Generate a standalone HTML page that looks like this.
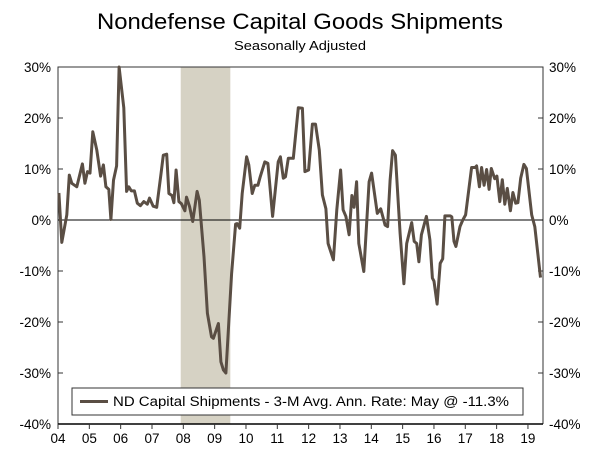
<!DOCTYPE html>
<html><head><meta charset="utf-8"><style>
body{margin:0;background:#fff;width:600px;height:454px;overflow:hidden;font-family:"Liberation Sans",sans-serif}
svg text{font-family:"Liberation Sans","DejaVu Sans",sans-serif;fill:#000}
</style></head><body>
<svg id="chart" width="600" height="454">
<text x="300" y="29" text-anchor="middle" font-size="22" textLength="406" lengthAdjust="spacingAndGlyphs">Nondefense Capital Goods Shipments</text>
<text x="300" y="50" text-anchor="middle" font-size="13" textLength="132" lengthAdjust="spacingAndGlyphs">Seasonally Adjusted</text>
<g id="plot"></g>
</svg>
<script>
const dates=[2004.03,2004.12,2004.28,2004.36,2004.44,2004.6,2004.78,2004.86,2004.94,2005.02,2005.11,2005.24,2005.36,2005.45,2005.53,2005.62,2005.69,2005.77,2005.87,2005.95,2006.1,2006.19,2006.26,2006.34,2006.44,2006.53,2006.63,2006.74,2006.85,2006.92,2007.04,2007.15,2007.29,2007.36,2007.47,2007.54,2007.64,2007.7,2007.77,2007.86,2007.94,2008.05,2008.1,2008.2,2008.3,2008.37,2008.44,2008.51,2008.66,2008.77,2008.9,2008.96,2009.12,2009.2,2009.28,2009.36,2009.54,2009.67,2009.72,2009.8,2009.88,2010.02,2010.09,2010.2,2010.28,2010.38,2010.45,2010.6,2010.7,2010.85,2011.03,2011.1,2011.19,2011.26,2011.35,2011.51,2011.67,2011.8,2011.88,2012.0,2012.12,2012.22,2012.34,2012.44,2012.55,2012.62,2012.79,2012.9,2013.02,2013.1,2013.19,2013.29,2013.38,2013.45,2013.53,2013.6,2013.76,2013.93,2014.01,2014.19,2014.3,2014.44,2014.52,2014.6,2014.68,2014.77,2014.92,2015.04,2015.13,2015.29,2015.37,2015.45,2015.52,2015.6,2015.76,2015.87,2015.95,2016.0,2016.1,2016.2,2016.28,2016.35,2016.52,2016.57,2016.64,2016.7,2016.83,2016.92,2017.01,2017.2,2017.31,2017.36,2017.45,2017.52,2017.6,2017.68,2017.76,2017.83,2017.94,2018.01,2018.1,2018.18,2018.26,2018.34,2018.44,2018.52,2018.61,2018.68,2018.77,2018.87,2018.95,2019.12,2019.22,2019.4];
const values=[5.3,-4.4,1.0,8.8,7.2,6.5,11,7.2,9.5,9.2,17.3,13.7,8.6,10.8,6.5,6.0,0.1,7.8,10.6,30,22,5.6,6.5,5.7,5.7,3.3,2.8,3.6,3.1,4.3,2.7,2.5,9.2,12.7,12.9,5.2,4.8,3.4,9.8,3.6,3.2,1.8,4.5,2.6,-0.3,2.6,5.6,3.9,-7.2,-18.3,-22.9,-23.2,-20.3,-27.8,-29.4,-30,-10.5,-0.8,-0.7,-1.6,5.2,12.4,10.8,5.2,6.8,6.8,8.4,11.4,11.1,0.7,11.4,12.4,8.2,8.5,12.1,12.1,22,21.9,9.5,9.8,18.8,18.8,13.7,4.9,2.2,-4.6,-7.8,2,9.8,2,0.7,-2.9,4.8,2.5,7.5,-4.6,-10.1,7.5,9.2,1.3,2.2,-1,-1.3,7.8,13.6,12.7,-2.6,-12.5,-4.6,-0.5,-4.2,-4.6,-8.2,-2.9,0.7,-3.9,-11.4,-12,-16.5,-8.5,-7.6,0.8,0.8,0.6,-4.2,-5.2,-1.3,0,1,10.3,10.3,10.6,6.5,10.3,6.8,9.9,6,10.1,8.1,8.6,3.6,7.9,3.1,6.2,1.8,5.4,3.3,3.4,8.2,10.9,10.1,1,-1.3,-11.3];
const yTicks=[30,20,10,0,-10,-20,-30,-40];
const xTickLabels=["04","05","06","07","08","09","10","11","12","13","14","15","16","17","18","19"];
const recession=[2007.917,2009.5];
const L=58,R=543,T=67,B=424;
const X=v=>L+(v-2004)*31.33;
const Y=v=>T+(30-v)*(B-T)/70;
const NS="http://www.w3.org/2000/svg";
const g=document.getElementById('plot');
function mk(tag,attrs,parent){const e=document.createElementNS(NS,tag);for(const k in attrs)e.setAttribute(k,attrs[k]);(parent||g).appendChild(e);return e;}
let rc=mk('rect',{x:X(recession[0]),y:T,width:X(recession[1])-X(recession[0]),height:B-T,fill:'#d6d2c4'});


let fr=mk('path',{d:`M${L},${B}V${T}H${R}V${B}`,fill:'none',stroke:'#333','stroke-width':1});


yTicks.forEach(t=>{
  const y=Y(t);
  mk('line',{x1:L,x2:L+5,y1:y,y2:y,stroke:'#333'});
  mk('line',{x1:R-5,x2:R,y1:y,y2:y,stroke:'#333'});
  let a=mk('text',{x:L-7,y:y+5,'text-anchor':'end','font-size':13.5});a.textContent=t+'%';
  
  
  let b=mk('text',{x:R+6,y:y+5,'font-size':13.5});b.textContent=t+'%';
  
  
});
let z=mk('line',{x1:L,x2:R,y1:Y(0),y2:Y(0),stroke:'#000','stroke-width':1});


mk('line',{x1:L,x2:R,y1:B,y2:B,stroke:'#000','stroke-width':1.5});
xTickLabels.forEach((s,i)=>{
  const x=X(2004+i);
  mk('line',{x1:x,x2:x,y1:B,y2:B+5,stroke:'#333'});
  let t=mk('text',{x:x,y:B+19,'text-anchor':'middle','font-size':13.5});t.textContent=s;
  
  
});
let d=dates.map((v,i)=>(i?'L':'M')+X(v).toFixed(1)+','+Y(values[i]).toFixed(1)).join('');
let ln=mk('path',{d:d,fill:'none',stroke:'#5a4e44','stroke-width':3,'stroke-linejoin':'round'});


let lg=mk('g',{});


mk('rect',{x:72,y:388,width:451,height:27,fill:'#fff',stroke:'#333'},lg);
mk('line',{x1:80,x2:108,y1:401.5,y2:401.5,stroke:'#5a4e44','stroke-width':3},lg);
let lt=mk('text',{x:113,y:406,'font-size':13.5,textLength:396,lengthAdjust:'spacingAndGlyphs'},lg);lt.textContent='ND Capital Shipments - 3-M Avg. Ann. Rate: May @ -11.3%';


</script>
</body></html>
